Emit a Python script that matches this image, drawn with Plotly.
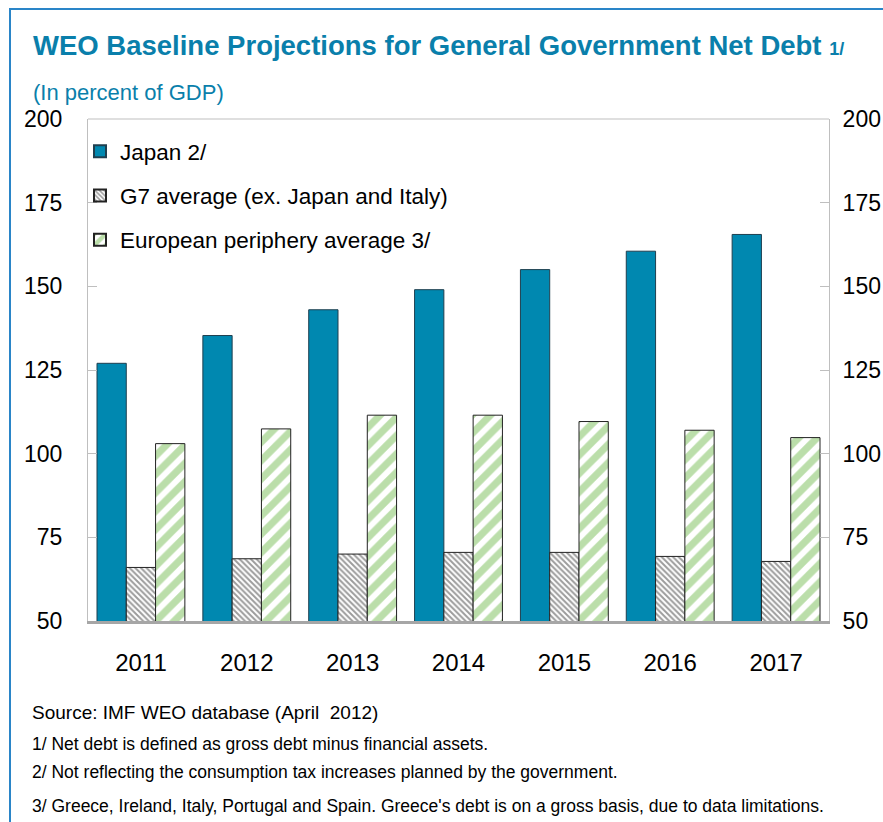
import plotly.graph_objects as go

years = ["2011", "2012", "2013", "2014", "2015", "2016", "2017"]
japan = [127, 135.3, 143, 149, 155, 160.5, 165.5]
g7 = [66, 68.6, 70, 70.5, 70.5, 69.3, 67.8]
europe = [103, 107.4, 111.5, 111.5, 109.6, 107, 104.8]
tick_vals = [50, 75, 100, 125, 150, 175, 200]

W, H = 883, 822
L, R, T, B = 88, 829, 119, 621
FONT = "Liberation Sans, Arial, sans-serif"
BLUE = "#0a7fab"

def px(x):
    return (x - L) / (R - L)

def py(y):
    return (B - y) / (B - T)

fig = go.Figure()
fig.add_trace(go.Bar(
    x=years, y=japan, name="Japan 2/", legendgroup="a",
    marker=dict(color="#0088b0", line=dict(color="#1f3f4f", width=1)),
))
fig.add_trace(go.Bar(
    x=years, y=g7, name="G7 average (ex. Japan and Italy)", legendgroup="b",
    marker=dict(color="white", line=dict(color="#222222", width=1),
                pattern=dict(shape="\\", fgcolor="#3a3a3a", bgcolor="white",
                             size=4, solidity=0.5)),
))
fig.add_trace(go.Bar(
    x=years, y=europe, name="European periphery average 3/", legendgroup="c",
    marker=dict(color="white", line=dict(color="#222222", width=1),
                pattern=dict(shape="/", fgcolor="#78bd56", bgcolor="white",
                             size=13, solidity=0.55)),
))
fig.add_trace(go.Scatter(
    x=years, y=japan, yaxis="y2", mode="markers",
    marker=dict(opacity=0), showlegend=False, hoverinfo="skip",
))

axis_common = dict(range=[50, 200], tickvals=tick_vals, ticks="inside",
                   ticklen=9, tickcolor="#bfbfbf", showgrid=False,
                   showline=True, linecolor="#bfbfbf", linewidth=1,
                   tickfont=dict(family=FONT, size=23, color="black"),
                   zeroline=False, fixedrange=True, automargin=False)

fig.update_layout(
    width=W, height=H,
    margin=dict(l=L, r=W - R, t=T, b=H - B, autoexpand=False),
    paper_bgcolor="white", plot_bgcolor="white",
    barmode="group", bargap=0.17, bargroupgap=0,
    font=dict(family=FONT, color="black"),
    xaxis=dict(showline=True, linecolor="#a6a6a6", linewidth=3,
               ticks="", tickfont=dict(family=FONT, size=24, color="black"),
               ticklabelstandoff=18, mirror=False, fixedrange=True,
               automargin=False),
    yaxis=dict(**axis_common, side="left", ticklabelstandoff=20),
    yaxis2=dict(**axis_common, side="right", overlaying="y", ticklabelstandoff=8),
    legend=dict(x=px(80), y=py(130), xanchor="left", yanchor="top",
                bgcolor="rgba(0,0,0,0)", font=dict(family=FONT, size=22.5),
                itemsizing="constant", tracegroupgap=12, traceorder="grouped",
                itemwidth=30),
    showlegend=True,
)

# top border line of the plot frame
fig.add_shape(type="line", xref="paper", yref="paper", x0=0, x1=1, y0=1, y1=1,
              line=dict(color="#bfbfbf", width=1))
# blue page frame
fig.add_shape(type="line", xref="paper", yref="paper", x0=px(9), x1=px(W + 5),
              y0=py(9), y1=py(9), line=dict(color="#2a85c8", width=2))
fig.add_shape(type="line", xref="paper", yref="paper", x0=px(10), x1=px(10),
              y0=py(9), y1=py(H + 5), line=dict(color="#2a85c8", width=2))

def text(x, y, s, size, color="black", bold=False):
    fig.add_annotation(x=px(x), y=py(y), xref="paper", yref="paper",
                       text=f"<b>{s}</b>" if bold else s, showarrow=False,
                       xanchor="left", yanchor="middle",
                       font=dict(family=FONT, size=size, color=color))

text(31, 46, "WEO Baseline Projections for General Government Net Debt <span style='font-size:18px'>1/</span>", 27.5, BLUE, bold=True)
text(31, 92, "(In percent of GDP)", 22, BLUE)
text(30, 712, "Source: IMF WEO database (April  2012)", 19)
text(30, 744, "1/ Net debt is defined as gross debt minus financial assets.", 17.5)
text(30, 772, "2/ Not reflecting the consumption tax increases planned by the government.", 17.5)
text(30, 806, "3/ Greece, Ireland, Italy, Portugal and Spain. Greece's debt is on a gross basis, due to data limitations.", 17.5)

fig.write_html("out.html")
